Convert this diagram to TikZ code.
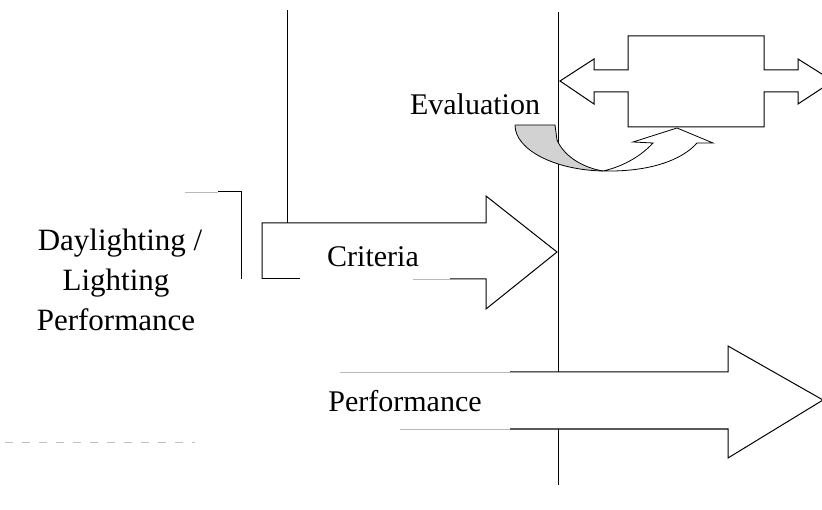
\documentclass[tikz,border=0pt]{standalone}
\usepackage{fontspec}
\setmainfont{Liberation Serif}
\begin{document}
\begin{tikzpicture}[x=1pt,y=-1pt,
  outline/.style={draw=black,line width=1pt,line join=miter},
  faint/.style={draw=gray!55,line width=0.9pt},
  faintdash/.style={draw=gray!50,line width=0.8pt,dash pattern=on 8pt off 9pt},
  label/.style={font=\fontsize{30}{30}\selectfont,inner sep=0pt,anchor=base},
  caption/.style={font=\fontsize{31}{31}\selectfont,inner sep=0pt,anchor=base}]
\useasboundingbox (0,0) rectangle (822,510);
\clip (0,0) rectangle (822,510);

% key points
\coordinate (axisTop) at (558,12);
\coordinate (axisMid) at (558,372);
\coordinate (axisLow) at (558,429);
\coordinate (axisEnd) at (558,485);
\coordinate (stemTop) at (287,10);
\coordinate (stemFoot) at (287,223);

% vertical lines
\draw[outline] (axisTop) -- (axisMid);
\draw[outline] (axisLow) -- (axisEnd);
\draw[outline] (stemTop) -- (stemFoot);

% bracket beside the left caption
\draw[faint] (185,192) -- (218,192);
\draw[outline] (218,192) -- (241,192) -- (241,279);

% Criteria arrow
\draw[outline] (262,279) -- (262,223) -- (486,223) -- (486,196) -- (557,252)
  -- (486,309) -- (486,279) -- (450,279);
\draw[outline] (262,279) -- (300,279);
\draw[faint] (413,279) -- (450,279);

% Performance arrow (open tail)
\draw[faint] (340,372) -- (510,372);
\draw[faint] (400,429) -- (510,429);
\draw[outline] (510,372) -- (728,372) -- (728,346) -- (823,400) -- (728,458)
  -- (728,429) -- (510,429);
\draw[faintdash] (5,442) -- (195,442);

% double-headed block arrow
\draw[outline] (560,81) -- (594,59) -- (594,70) -- (628,70) -- (628,36)
  -- (764,36) -- (764,70) -- (798,70) -- (798,59) -- (833,81) -- (798,104)
  -- (798,92) -- (764,92) -- (764,127) -- (628,127) -- (628,92) -- (594,92)
  -- (594,104) -- cycle;

% curved feedback arrow
\fill[gray!35] (515,125) -- (555,125) -- (557,140)
  .. controls (565,158) and (585,168) .. (603,171)
  .. controls (555,170) and (515,150) .. (515,125) -- cycle;
\draw[line width=0.8pt] (515,125) -- (555,125) -- (557,140)
  .. controls (565,158) and (585,168) .. (603,171);
\draw[line width=0.8pt] (515,125)
  .. controls (515,150) and (555,170) .. (603,171)
  .. controls (650,172) and (682,160) .. (697,143)
  -- (713,143) -- (677,128) -- (633,142) -- (653,143)
  .. controls (642,155) and (625,166) .. (603,171);

% labels
\node[label] (eval) at (475,115) {Evaluation};
\node[label] (crit) at (373,267) {Criteria};
\node[label] (perf) at (405,411) {Performance};
\node[caption] (cap1) at (120,251) {Daylighting /};
\node[caption] (cap2) at (116,291) {Lighting};
\node[caption] (cap3) at (116,331) {Performance};
\end{tikzpicture}
\end{document}
